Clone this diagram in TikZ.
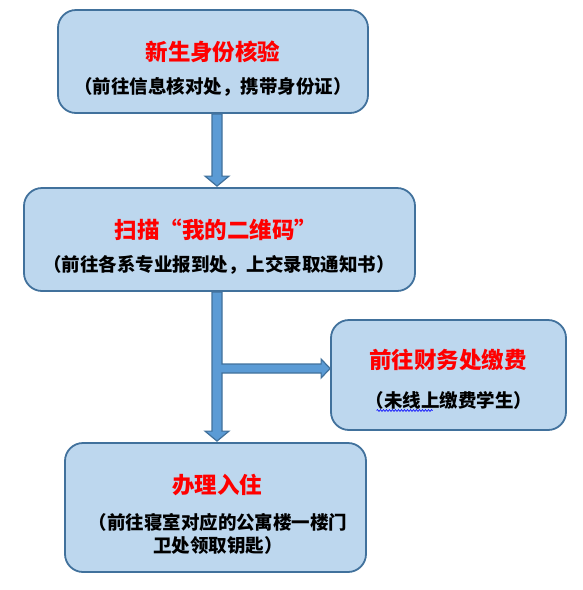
\documentclass[tikz,border=0pt]{standalone}
\usepackage{fontspec}
\setmainfont{Noto Sans CJK SC}
\usetikzlibrary{decorations.pathmorphing,calc}
\definecolor{boxfill}{HTML}{BDD7EE}
\definecolor{boxline}{HTML}{41719C}
\definecolor{arrfill}{HTML}{5B9BD5}
\definecolor{titlered}{HTML}{FF0000}
\tikzset{
  stepbox/.style={draw=boxline, fill=boxfill, line width=1.8pt, rounded corners=18pt, inner sep=0pt},
  ttl/.style={text=titlered, font=\bfseries\fontsize{22.5}{26}\selectfont, inner sep=0pt},
  sub/.style={text=black, font=\bfseries\fontsize{18.5}{22.5}\selectfont, inner sep=0pt, align=center},
  blockarrow/.style={fill=arrfill, draw=boxline, line width=1.2pt, line join=miter}
}
\begin{document}
\begin{tikzpicture}[x=1pt,y=-1pt]
\useasboundingbox (0,0) rectangle (582,590);
% boxes
\node[stepbox, minimum width=310pt, minimum height=103pt] (b1) at (213,61.5) {};
\node[stepbox, minimum width=391pt, minimum height=103pt] (b2) at (219.5,239.5) {};
\node[stepbox, minimum width=235pt, minimum height=110pt] (b3) at (448.5,375) {};
\node[stepbox, minimum width=301pt, minimum height=129pt] (b4) at (215.5,507.5) {};
% texts
\node[ttl] (t1) at (213,52) {新生身份核验};
\node[sub] (s1) at (213,87) {（前往信息核对处，携带身份证）};
\node[ttl] (t2) at (216,230) {扫描“我的二维码”};
\node[sub] (s2) at (219,265) {（前往各系专业报到处，上交录取通知书）};
\node[ttl] (t3) at (448,360) {前往财务处缴费};
\node[sub] (s3) at (449,400) {（未线上缴费学生）};
\node[ttl] (t4) at (217,485) {办理入住};
\node[sub] (s4) at (218,534) {（前往寝室对应的公寓楼一楼门\\卫处领取钥匙）};
% spell-check wavy underline
\coordinate (w1) at ($(s3.west)+(11,10.5)$);
\coordinate (w2) at ($(w1)+(56,0)$);
\draw[blue, line width=0.6pt, decorate, decoration={snake, amplitude=0.9pt, segment length=3pt}] (w1) -- (w2);
% arrows
\coordinate (ax) at (217,0);
\coordinate (by) at (0,368.5);
\path[blockarrow]
  ($(ax |- b1.south)+(-5,0)$) -- ($(ax |- b1.south)+(5,0)$)
  -- ($(ax |- b2.north)+(5,-11)$) -- ($(ax |- b2.north)+(12,-11)$)
  -- ($(ax |- b2.north)+(0,-1)$)
  -- ($(ax |- b2.north)+(-12,-11)$) -- ($(ax |- b2.north)+(-5,-11)$) -- cycle;
\path[blockarrow]
  ($(ax |- b2.south)+(-5,0)$) -- ($(ax |- b2.south)+(5,0)$)
  -- ($(ax |- by)+(5,-4.5)$) -- ($(b3.west |- by)+(-9,-4.5)$)
  -- ($(b3.west |- by)+(-9,-9.5)$) -- ($(b3.west |- by)+(0,0)$)
  -- ($(b3.west |- by)+(-9,9.5)$) -- ($(b3.west |- by)+(-9,4.5)$)
  -- ($(ax |- by)+(5,4.5)$)
  -- ($(ax |- b4.north)+(5,-11)$) -- ($(ax |- b4.north)+(12,-11)$)
  -- ($(ax |- b4.north)+(0,-1)$)
  -- ($(ax |- b4.north)+(-12,-11)$) -- ($(ax |- b4.north)+(-5,-11)$) -- cycle;
\end{tikzpicture}
\end{document}
